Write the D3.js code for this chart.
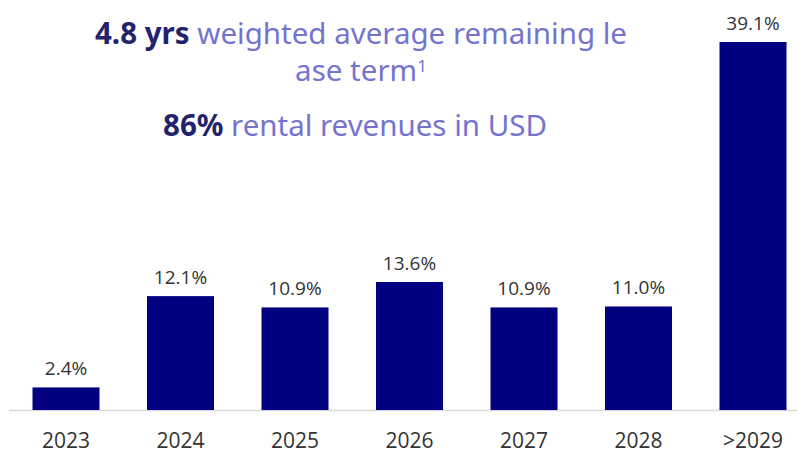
<!DOCTYPE html>
<html>
<head>
<meta charset="utf-8">
<script src="https://cdn.jsdelivr.net/npm/d3@7"></script>
<style>
  body { margin: 0; background: #fff; }
</style>
</head>
<body>
<div id="chart"></div>
<script>
var categories = ["2023", "2024", "2025", "2026", "2027", "2028", ">2029"];
var values = [2.4, 12.1, 10.9, 13.6, 10.9, 11.0, 39.1];
var valueLabels = ["2.4%", "12.1%", "10.9%", "13.6%", "10.9%", "11.0%", "39.1%"];

var w = 797, h = 454;
var base = 410;

var svg = d3.select("#chart").append("svg")
  .attr("width", w)
  .attr("height", h);

var x = d3.scaleBand()
  .domain(categories)
  .range([8.75, 810.25])
  .paddingInner(0.415)
  .paddingOuter(0.2075);

var y = d3.scaleLinear()
  .domain([0, 39.1])
  .range([base, 42]);

// baseline
svg.append("line")
  .attr("x1", 9).attr("x2", w)
  .attr("y1", base + 0.5).attr("y2", base + 0.5)
  .attr("stroke", "#d9d9d9")
  .attr("stroke-width", 1.5);

svg.selectAll("rect.bar")
  .data(values)
  .enter().append("rect")
  .attr("class", "bar")
  .attr("x", function(d, i) { return x(categories[i]); })
  .attr("width", x.bandwidth())
  .attr("y", function(d) { return y(d); })
  .attr("height", function(d) { return base - y(d); })
  .attr("fill", "#000080");

svg.selectAll("text.val")
  .data(values)
  .enter().append("text")
  .attr("class", "val")
  .attr("x", function(d, i) { return x(categories[i]) + x.bandwidth() / 2; })
  .attr("y", function(d) { return y(d) - 12; })
  .attr("text-anchor", "middle")
  .attr("font-family", "'Open Sans', sans-serif")
  .attr("font-size", 19)
  .attr("fill", "#333")
  .text(function(d, i) { return valueLabels[i]; });

svg.selectAll("text.cat")
  .data(categories)
  .enter().append("text")
  .attr("class", "cat")
  .attr("x", function(d) { return x(d) + x.bandwidth() / 2; })
  .attr("y", 448)
  .attr("text-anchor", "middle")
  .attr("font-family", "'Open Sans', sans-serif")
  .attr("font-size", 21)
  .attr("fill", "#333")
  .text(function(d) { return d; });

// headline text
var dark = "#23236b", light = "#7474cf";
var t1 = svg.append("text")
  .attr("x", 361).attr("y", 44)
  .attr("text-anchor", "middle")
  .attr("font-family", "'Noto Sans', sans-serif")
  .attr("font-size", 29.5);
t1.append("tspan").attr("font-weight", "bold").attr("fill", dark).text("4.8 yrs");
t1.append("tspan").attr("fill", light).text(" weighted average remaining le");

var t2 = svg.append("text")
  .attr("x", 361).attr("y", 81)
  .attr("text-anchor", "middle")
  .attr("font-family", "'Noto Sans', sans-serif")
  .attr("font-size", 29.5)
  .attr("fill", light);
t2.append("tspan").text("ase term");
t2.append("tspan").attr("font-size", 17).attr("dy", -9).text("1");

var t3 = svg.append("text")
  .attr("x", 355).attr("y", 136)
  .attr("text-anchor", "middle")
  .attr("font-family", "'Noto Sans', sans-serif")
  .attr("font-size", 29.5);
t3.append("tspan").attr("font-weight", "bold").attr("fill", dark).text("86%");
t3.append("tspan").attr("fill", light).text(" rental revenues in USD");
</script>
</body>
</html>
